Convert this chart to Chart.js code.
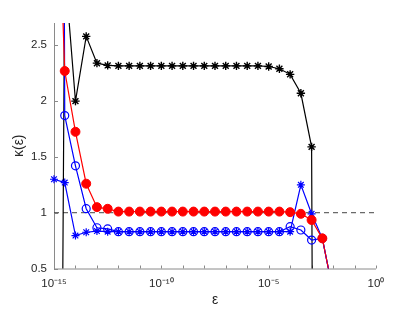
<!DOCTYPE html>
<html>
<head>
<meta charset="utf-8">
<script src="https://cdn.jsdelivr.net/npm/chart.js@4"></script>
<style>
    html, body { margin: 0; padding: 0; background: #fff; }
    #wrap { width: 415px; height: 312px; }
</style>
</head>
<body>
<div id="wrap"><canvas id="kappaChart"></canvas></div>
<script>
// epsilon = 10^k, half-decade steps
const exponents = [-15, -14.5, -14, -13.5, -13, -12.5, -12, -11.5, -11, -10.5, -10, -9.5, -9, -8.5,
                   -8, -7.5, -7, -6.5, -6, -5.5, -5, -4.5, -4, -3.5, -3, -2.5, -2];

const blackStars = [-12, 3.2, 2.0, 2.58, 2.34, 2.32,
                    2.316, 2.316, 2.316, 2.316, 2.316, 2.316, 2.316, 2.316, 2.316, 2.316, 2.316, 2.316, 2.316, 2.316,
                    2.31, 2.29, 2.24, 2.07, 1.59, -20, null];

const redDots = [5.0, 2.27, 1.725, 1.26, 1.05, 1.035,
                 1.01, 1.01, 1.01, 1.01, 1.01, 1.01, 1.01, 1.01, 1.01, 1.01, 1.01, 1.01, 1.01, 1.01, 1.01, 1.01,
                 1.005, 0.99, 0.935, 0.77, 0.29];

const blueCircles = [30, 1.87, 1.42, 1.036, 0.865, 0.855,
                     0.83, 0.83, 0.83, 0.83, 0.83, 0.83, 0.83, 0.83, 0.83, 0.83, 0.83, 0.83, 0.83, 0.83, 0.83,
                     0.83, 0.875, 0.845, 0.755, 0.77, 0.29];

const blueStars = [1.30, 1.27, 0.795, 0.825, 0.835,
                   0.83, 0.83, 0.83, 0.83, 0.83, 0.83, 0.83, 0.83, 0.83, 0.83, 0.83, 0.83, 0.83, 0.83, 0.83, 0.83, 0.83, 0.83,
                   1.25, 0.99, 0.77, 0.29];

// dashed reference line at kappa = 1
const refX = [1e-15, 1];
const refY = [1, 1];

const xTickExps = [-15, -14, -13, -12, -11, -10, -9, -8, -7, -6, -5, -4, -3, -2, -1, 0];
const yTickValues = [0.5, 1, 1.5, 2, 2.5];

function toPoints(arr) {
    let pts = [];
    for (let i = 0; i < exponents.length; i++) {
        pts.push({ x: Math.pow(10, exponents[i]), y: arr[i] });
    }
    return pts;
}

function sup(n) {
    const map = { '-': '\u207B', '0': '\u2070', '1': '\u00B9', '2': '\u00B2', '3': '\u00B3', '4': '\u2074',
                  '5': '\u2075', '6': '\u2076', '7': '\u2077', '8': '\u2078', '9': '\u2079' };
    return String(n).split('').map(c => map[c]).join('');
}

// MATLAB-like axes: gray left/bottom lines with inward ticks
const axesPlugin = {
    id: 'matlabAxes',
    beforeDatasetsDraw(chart) {
        const { ctx, chartArea: a, scales: { x, y } } = chart;
        ctx.save();
        ctx.strokeStyle = '#8a8a8a';
        ctx.lineWidth = 1;
        ctx.beginPath();
        ctx.moveTo(a.left + 0.5, a.top);
        ctx.lineTo(a.left + 0.5, a.bottom + 0.5);
        ctx.lineTo(a.right, a.bottom + 0.5);
        x.ticks.forEach(t => {
            const px = Math.round(x.getPixelForValue(t.value)) + 0.5;
            ctx.moveTo(px, a.bottom);
            ctx.lineTo(px, a.bottom - 3);
        });
        y.ticks.forEach(t => {
            const py = Math.round(y.getPixelForValue(t.value)) + 0.5;
            ctx.moveTo(a.left, py);
            ctx.lineTo(a.left + 4, py);
        });
        ctx.stroke();
        ctx.restore();
    }
};

const clipBox = { left: 8, right: 8, top: 0, bottom: 0 };

const ctx = document.getElementById('kappaChart').getContext('2d');
const chart = new Chart(ctx, {
    type: 'line',
    data: {
        datasets: [
            {
                data: toPoints(redDots),
                borderColor: 'rgb(255,0,0)',
                borderWidth: 1.2,
                pointStyle: 'circle',
                pointRadius: 4.5,
                pointBackgroundColor: 'rgb(255,0,0)',
                pointBorderColor: 'rgb(255,0,0)',
                pointBorderWidth: 1,
                clip: clipBox
            },
            {
                data: toPoints(blueStars),
                borderColor: 'rgb(0,0,255)',
                borderWidth: 1.2,
                pointStyle: 'star',
                pointRadius: 4,
                pointBorderColor: 'rgb(0,0,255)',
                pointBorderWidth: 1.2,
                clip: clipBox
            },
            {
                data: toPoints(blueCircles),
                borderColor: 'rgb(0,0,255)',
                borderWidth: 1.2,
                pointStyle: 'circle',
                pointRadius: 4,
                pointBackgroundColor: 'rgba(0,0,0,0)',
                pointBorderColor: 'rgb(0,0,255)',
                pointBorderWidth: 1.2,
                clip: clipBox
            },
            {
                data: toPoints(blackStars),
                borderColor: '#000',
                borderWidth: 1.2,
                pointStyle: 'star',
                pointRadius: 4.2,
                pointBorderColor: '#000',
                pointBorderWidth: 1.4,
                clip: clipBox
            },
            {
                data: refX.map((v, i) => ({ x: v, y: refY[i] })),
                borderColor: '#444',
                borderWidth: 1,
                borderDash: [5, 4],
                pointRadius: 0
            }
        ]
    },
    options: {
        responsive: true,
        maintainAspectRatio: false,
        animation: false,
        events: [],
        layout: { padding: { top: 23, right: 39, left: 0, bottom: 0 } },
        elements: { line: { tension: 0 } },
        scales: {
            x: {
                type: 'logarithmic',
                min: 1e-15,
                max: 1,
                grid: { display: false, drawTicks: false },
                border: { display: false },
                afterBuildTicks: function(scale) {
                    scale.ticks = xTickExps.map(e => ({ value: Math.pow(10, e) }));
                },
                afterFit: function(scale) { scale.height = 43.5; },
                ticks: {
                    autoSkip: false,
                    maxRotation: 0,
                    padding: 8,
                    color: '#262626',
                    font: { family: 'Liberation Sans', size: 11.5 },
                    callback: function(value) {
                        const e = Math.round(Math.log10(value));
                        return e % 5 === 0 ? '10' + sup(e) : '';
                    }
                },
                title: {
                    display: true,
                    text: '\u03B5',
                    color: '#262626',
                    font: { family: 'Liberation Sans', size: 14 },
                    padding: { top: 0, bottom: 3 }
                }
            },
            y: {
                type: 'linear',
                min: 0.5,
                max: 2.7,
                grid: { display: false, drawTicks: false },
                border: { display: false },
                afterBuildTicks: function(scale) {
                    scale.ticks = yTickValues.map(v => ({ value: v }));
                },
                afterFit: function(scale) { scale.width = 54; },
                ticks: {
                    padding: 7,
                    color: '#262626',
                    font: { family: 'Liberation Sans', size: 11.5 },
                    callback: function(value) { return String(value); }
                },
                title: {
                    display: true,
                    text: '\u03BA(\u03B5)',
                    color: '#262626',
                    font: { family: 'Liberation Sans', size: 14 },
                    padding: { top: 11, bottom: 0 }
                }
            }
        },
        plugins: {
            legend: { display: false },
            tooltip: { enabled: false }
        }
    },
    plugins: [axesPlugin]
});
</script>
</body>
</html>
